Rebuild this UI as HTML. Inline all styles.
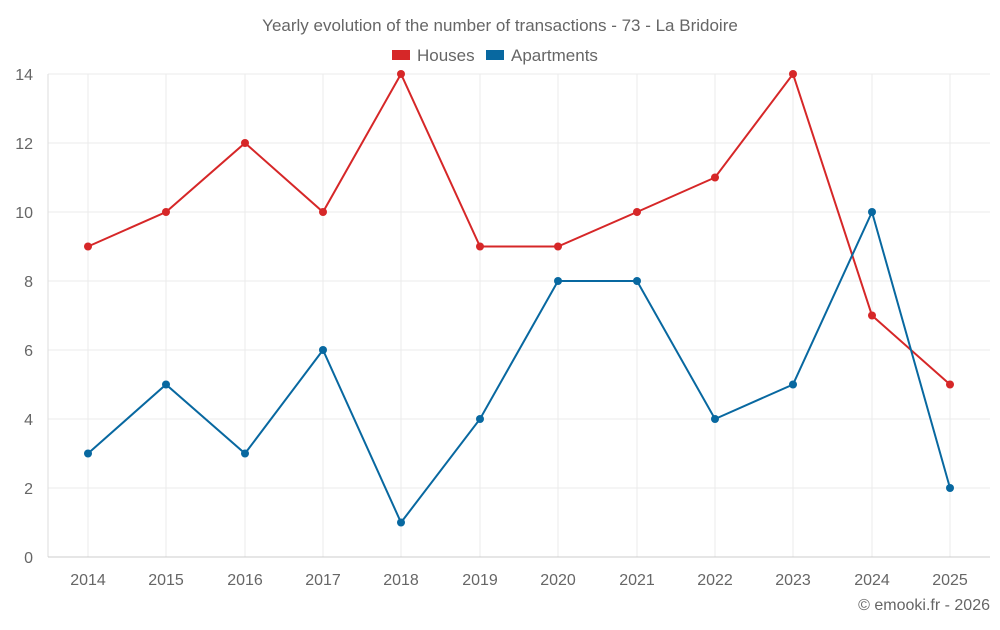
<!DOCTYPE html>
<html><head><meta charset="utf-8"><style>
body{margin:0;background:#fff;width:1000px;height:625px;overflow:hidden;font-family:"Liberation Sans",sans-serif}
</style></head><body>
<svg width="1000" height="625" xmlns="http://www.w3.org/2000/svg" font-family="Liberation Sans, sans-serif">
<text x="500" y="31" text-anchor="middle" font-size="17" fill="#666">Yearly evolution of the number of transactions - 73 - La Bridoire</text>
<rect x="392" y="50" width="18" height="10" fill="#d62728"/>
<text x="417" y="61" font-size="17" fill="#666">Houses</text>
<rect x="486" y="50" width="18" height="10" fill="#0868a0"/>
<text x="511" y="61" font-size="17" fill="#666">Apartments</text>
<g stroke="#ebebeb" stroke-width="1">
<line x1="48" x2="990" y1="74" y2="74"/><line x1="48" x2="990" y1="143" y2="143"/><line x1="48" x2="990" y1="212" y2="212"/><line x1="48" x2="990" y1="281" y2="281"/><line x1="48" x2="990" y1="350" y2="350"/><line x1="48" x2="990" y1="419" y2="419"/><line x1="48" x2="990" y1="488" y2="488"/>
<line x1="88" x2="88" y1="74" y2="557"/><line x1="166" x2="166" y1="74" y2="557"/><line x1="245" x2="245" y1="74" y2="557"/><line x1="323" x2="323" y1="74" y2="557"/><line x1="401" x2="401" y1="74" y2="557"/><line x1="480" x2="480" y1="74" y2="557"/><line x1="558" x2="558" y1="74" y2="557"/><line x1="637" x2="637" y1="74" y2="557"/><line x1="715" x2="715" y1="74" y2="557"/><line x1="793" x2="793" y1="74" y2="557"/><line x1="872" x2="872" y1="74" y2="557"/><line x1="950" x2="950" y1="74" y2="557"/>
</g>
<line x1="48" x2="48" y1="74" y2="557" stroke="#ddd"/>
<line x1="48" x2="990" y1="557" y2="557" stroke="#ccc"/>
<g font-size="16" fill="#666" text-anchor="end">
<text x="33" y="563">0</text><text x="33" y="494">2</text><text x="33" y="425">4</text><text x="33" y="356">6</text><text x="33" y="287">8</text><text x="33" y="218">10</text><text x="33" y="149">12</text><text x="33" y="80">14</text>
</g>
<g font-size="16" fill="#666" text-anchor="middle">
<text x="88" y="585">2014</text><text x="166" y="585">2015</text><text x="245" y="585">2016</text><text x="323" y="585">2017</text><text x="401" y="585">2018</text><text x="480" y="585">2019</text><text x="558" y="585">2020</text><text x="637" y="585">2021</text><text x="715" y="585">2022</text><text x="793" y="585">2023</text><text x="872" y="585">2024</text><text x="950" y="585">2025</text>
</g>
<text x="990" y="610" text-anchor="end" font-size="16" fill="#666">© emooki.fr - 2026</text>
<g fill="#d62728">
<polyline fill="none" stroke="#d62728" stroke-width="2" points="88,246.5 166,212 245,143 323,212 401,74 480,246.5 558,246.5 637,212 715,177.5 793,74 872,315.5 950,384.5"/>
<circle cx="88" cy="246.5" r="4"/><circle cx="166" cy="212" r="4"/><circle cx="245" cy="143" r="4"/><circle cx="323" cy="212" r="4"/><circle cx="401" cy="74" r="4"/><circle cx="480" cy="246.5" r="4"/><circle cx="558" cy="246.5" r="4"/><circle cx="637" cy="212" r="4"/><circle cx="715" cy="177.5" r="4"/><circle cx="793" cy="74" r="4"/><circle cx="872" cy="315.5" r="4"/><circle cx="950" cy="384.5" r="4"/>
</g>
<g fill="#0868a0">
<polyline fill="none" stroke="#0868a0" stroke-width="2" points="88,453.5 166,384.5 245,453.5 323,350 401,522.5 480,419 558,281 637,281 715,419 793,384.5 872,212 950,488"/>
<circle cx="88" cy="453.5" r="4"/><circle cx="166" cy="384.5" r="4"/><circle cx="245" cy="453.5" r="4"/><circle cx="323" cy="350" r="4"/><circle cx="401" cy="522.5" r="4"/><circle cx="480" cy="419" r="4"/><circle cx="558" cy="281" r="4"/><circle cx="637" cy="281" r="4"/><circle cx="715" cy="419" r="4"/><circle cx="793" cy="384.5" r="4"/><circle cx="872" cy="212" r="4"/><circle cx="950" cy="488" r="4"/>
</g>
</svg>
</body></html>
